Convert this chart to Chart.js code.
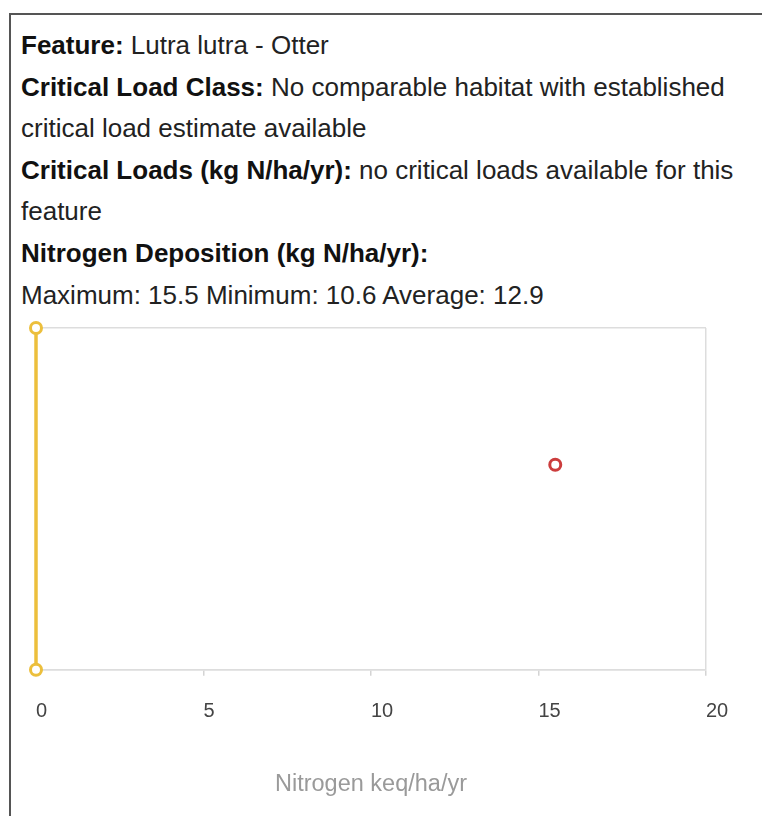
<!DOCTYPE html>
<html>
<head>
<meta charset="utf-8">
<script src="https://cdn.jsdelivr.net/npm/chart.js@4"></script>
<style>
  html, body { margin: 0; padding: 0; background: #fff; }
  body { width: 762px; height: 816px; overflow: hidden; position: relative; font-family: "Liberation Sans", Arial, sans-serif; }
  #box {
    position: absolute; left: 9px; top: 13px; width: 800px; height: 900px;
    border: 2px solid #555; box-sizing: border-box;
  }
  #info {
    position: absolute; left: 21px; top: 25px; width: 730px;
    font-size: 26px; line-height: 41.6px; color: #222;
  }
  #info b { color: #111; }
  #wrap { position: absolute; left: 0; top: 300px; width: 762px; height: 516px; }
</style>
</head>
<body>
<div id="box"></div>
<div id="info">
  <b>Feature:</b> Lutra lutra - Otter<br>
  <b>Critical Load Class:</b> No comparable habitat with established critical load estimate available<br>
  <b>Critical Loads (kg N/ha/yr):</b> no critical loads available for this feature<br>
  <b>Nitrogen Deposition (kg N/ha/yr):</b><br>
  Maximum: 15.5 Minimum: 10.6 Average: 12.9
</div>
<div id="wrap"><canvas id="chart"></canvas></div>
<script>
// critical load line (none available, sits at 0)
var loadX = [0, 0];
var loadY = [0, 1];

// maximum deposition marker
var depX = [15.5];
var depY = [0.6];

var xTicks = [0, 5, 10, 15, 20];

var loadPts = [];
for (var i = 0; i < loadX.length; i++) {
  loadPts.push({ x: loadX[i], y: loadY[i] });
}
var depPts = [];
for (var j = 0; j < depX.length; j++) {
  depPts.push({ x: depX[j], y: depY[j] });
}

var ctx = document.getElementById("chart");

var chart = new Chart(ctx, {
  type: "scatter",
  data: {
    datasets: [
      {
        label: "Critical load",
        data: loadPts,
        showLine: true,
        borderColor: "#ecbf3c",
        borderWidth: 3.5,
        backgroundColor: "#fff",
        pointBorderColor: "#ecbf3c",
        pointBackgroundColor: "#fff",
        pointRadius: 5.5,
        pointBorderWidth: 3,
        clip: false
      },
      {
        label: "Deposition",
        data: depPts,
        borderColor: "#cc3d3d",
        backgroundColor: "#fff",
        pointRadius: 5.5,
        pointBorderWidth: 3,
        clip: false
      }
    ]
  },
  options: {
    responsive: true,
    maintainAspectRatio: false,
    animation: false,
    layout: { padding: { left: 36, right: 56, top: 28, bottom: 0 } },
    plugins: {
      legend: { display: false },
      tooltip: { enabled: false }
    },
    scales: {
      x: {
        type: "linear",
        min: 0,
        max: 20,
        afterBuildTicks: function(axis) {
          axis.ticks = xTicks.map(function(v) { return { value: v }; });
        },
        grid: {
          color: function(c) { return c.tick && c.tick.value === 20 ? "#dddddd" : "rgba(0,0,0,0)"; },
          tickColor: "#d4d4d4",
          tickLength: 6,
          lineWidth: 1.5
        },
        border: { display: true, color: "#dddddd", width: 1.5 },
        ticks: {
          color: "#444",
          align: "start",
          padding: 24,
          font: { family: "'Liberation Sans', Arial", size: 20 }
        },
        title: {
          display: true,
          text: "Nitrogen keq/ha/yr",
          color: "#9a9a9a",
          font: { family: "'Liberation Sans', Arial", size: 23.5 },
          padding: { top: 23, bottom: 17 }
        }
      },
      y: {
        min: 0,
        max: 1,
        ticks: { display: false, stepSize: 1 },
        grid: { color: "#dddddd", drawTicks: false, lineWidth: 1.5 },
        border: { display: false }
      }
    }
  }
});
</script>
</body>
</html>
